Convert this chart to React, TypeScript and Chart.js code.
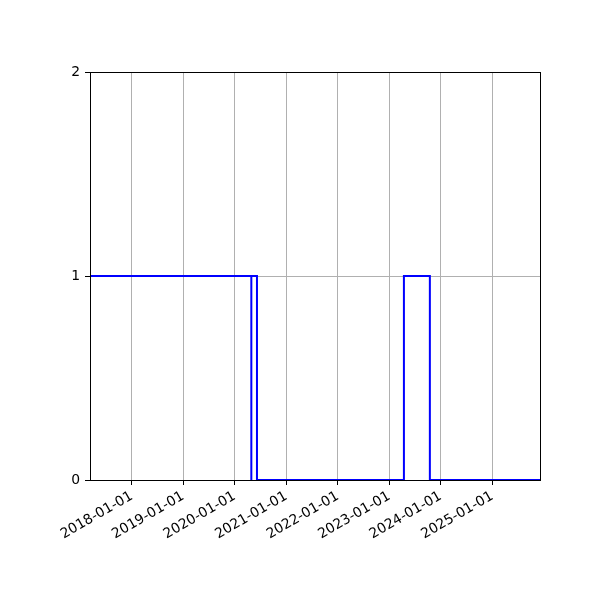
import React, { useEffect, useRef } from "react";
import { Chart, registerables } from "chart.js";

Chart.register(...registerables);

// step points (date, value), drawn as a post-step line
const stepDates = [
  "2017-03-11",
  "2020-04-28",
  "2020-04-28",
  "2020-06-07",
  "2023-04-15",
  "2023-10-16",
  "2025-12-05",
];
const stepValues = [1, 0, 1, 0, 1, 0, 0];

const tickDates = [
  "2018-01-01",
  "2019-01-01",
  "2020-01-01",
  "2021-01-01",
  "2022-01-01",
  "2023-01-01",
  "2024-01-01",
  "2025-01-01",
];
const yMin = 0;
const yMax = 2;

const toMs = (d: string) => Date.parse(d + "T00:00:00Z");
const fmtDate = (ms: number) => new Date(ms).toISOString().slice(0, 10);

const FONT = { family: "'DejaVu Sans', sans-serif", size: 13.9 };

// matplotlib-like box around the axes
const framePlugin = {
  id: "frame",
  afterDatasetsDraw(chart: any) {
    const { ctx, chartArea: a } = chart;
    ctx.save();
    ctx.strokeStyle = "#000000";
    ctx.lineWidth = 1;
    ctx.strokeRect(
      Math.round(a.left) + 0.5,
      Math.round(a.top) + 0.5,
      Math.round(a.right - a.left),
      Math.round(a.bottom - a.top)
    );
    ctx.restore();
  },
};

export default function App() {
  const canvasRef = useRef<HTMLCanvasElement | null>(null);

  useEffect(() => {
    if (!canvasRef.current) return;

    const chart = new Chart(canvasRef.current, {
      type: "line",
      data: {
        datasets: [
          {
            data: stepDates.map((d, i) => ({ x: toMs(d), y: stepValues[i] })),
            borderColor: "#0000ff",
            borderWidth: 2,
            pointRadius: 0,
            stepped: "before",
            fill: false,
          },
        ],
      },
      options: {
        responsive: false,
        animation: false,
        devicePixelRatio: 1,
        layout: { padding: { top: 72, right: 60, left: 0, bottom: 0 } },
        plugins: {
          legend: { display: false },
          tooltip: { enabled: false },
        },
        scales: {
          x: {
            type: "linear",
            min: toMs(stepDates[0]),
            max: toMs(stepDates[stepDates.length - 1]),
            afterBuildTicks: (scale: any) => {
              scale.ticks = tickDates.map((d) => ({ value: toMs(d) }));
            },
            afterFit: (scale: any) => {
              scale.height = 120;
            },
            border: { display: false },
            grid: {
              color: "#b0b0b0",
              lineWidth: 1,
              tickColor: "#000000",
              tickLength: 5,
            },
            ticks: {
              autoSkip: false,
              minRotation: 30,
              maxRotation: 30,
              padding: 3,
              color: "#000000",
              font: FONT,
              callback: (v: any) => fmtDate(Number(v)),
            },
          },
          y: {
            min: yMin,
            max: yMax,
            afterFit: (scale: any) => {
              scale.width = 90;
            },
            border: { display: false },
            grid: {
              color: "#b0b0b0",
              lineWidth: 1,
              tickColor: "#000000",
              tickLength: 5,
            },
            ticks: {
              stepSize: 1,
              padding: 5,
              color: "#000000",
              font: FONT,
              callback: (v: any) => String(v),
            },
          },
        },
      },
      plugins: [framePlugin],
    });

    return () => {
      chart.destroy();
    };
  }, []);

  return (
    <div style={{ position: "absolute", left: 0, top: 0, width: 600, height: 600, background: "#ffffff" }}>
      <canvas ref={canvasRef} width={600} height={600}></canvas>
    </div>
  );
}
